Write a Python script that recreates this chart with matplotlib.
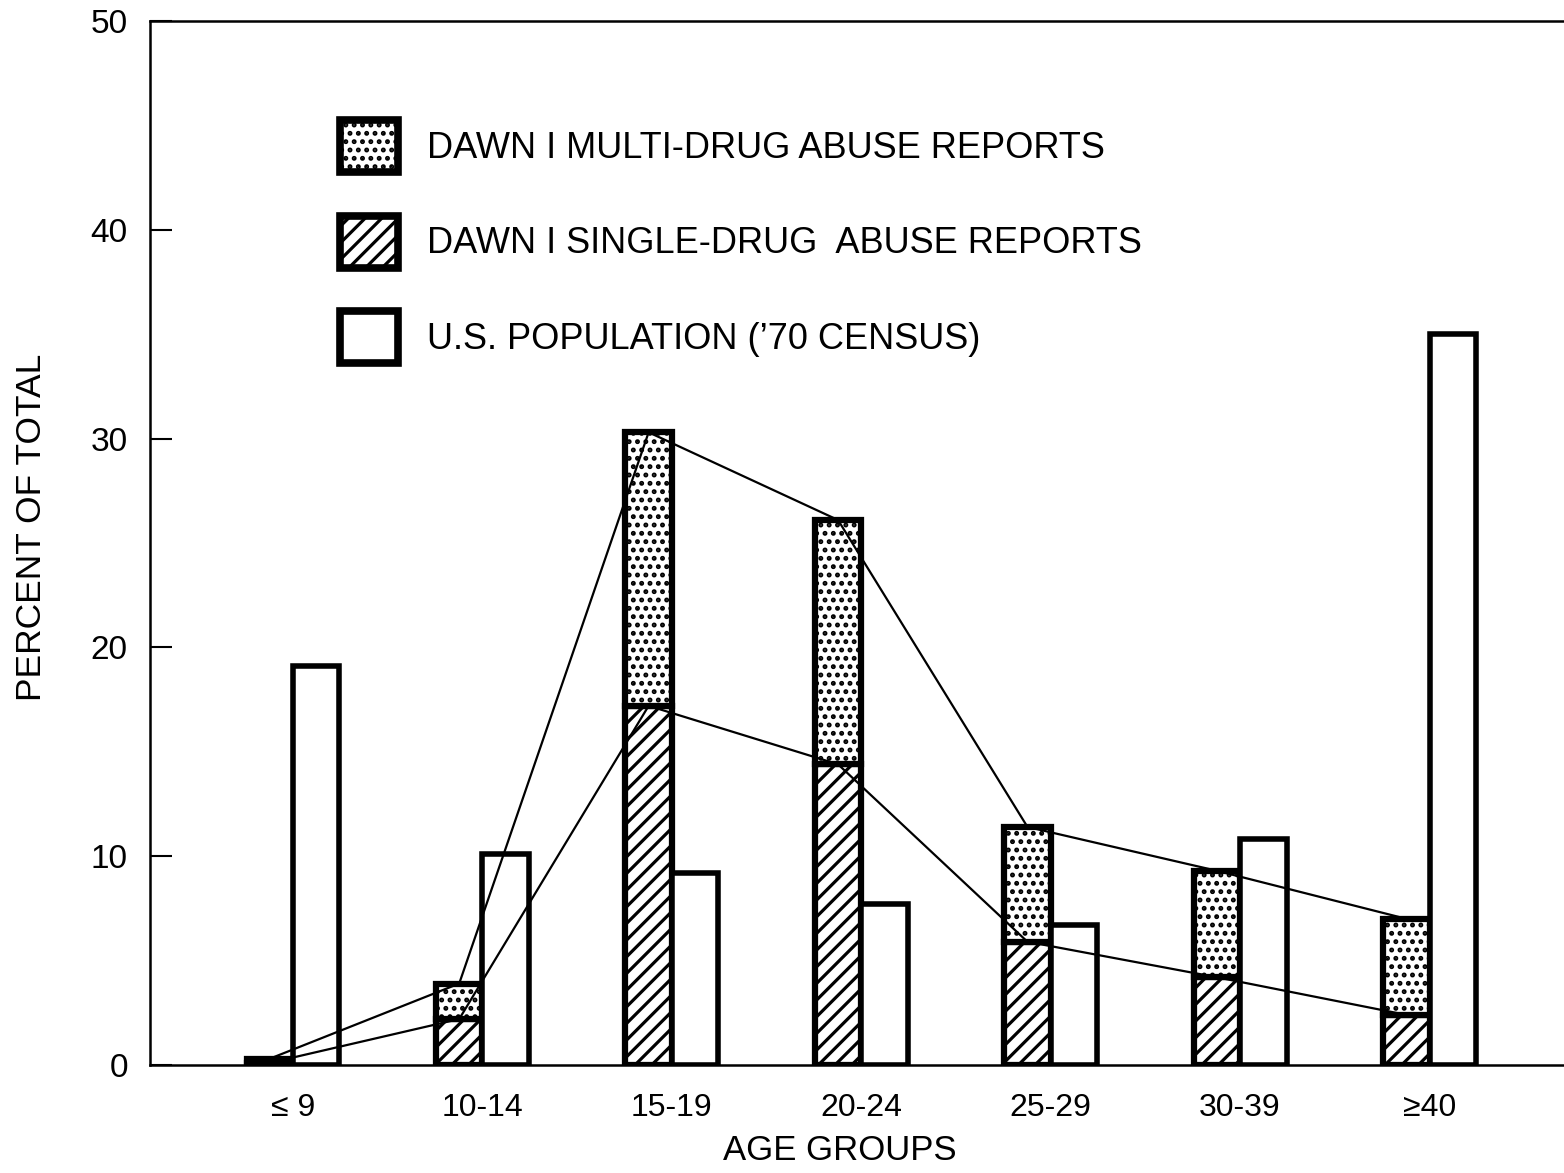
import numpy as np
import matplotlib
matplotlib.use('Agg')
import matplotlib.pyplot as plt
from matplotlib.patches import Patch

plt.rcParams['font.family'] = ['Liberation Sans', 'DejaVu Sans']
plt.rcParams['hatch.linewidth'] = 2.3

# data (percent of total)
ageGroups = ['≤ 9', '10-14', '15-19', '20-24', '25-29', '30-39', '≥40']
totalDrug = [0.3, 3.9, 30.3, 26.1, 11.4, 9.3, 7.0]     # multi + single (top of stacked bar)
singleDrug = [0.1, 2.2, 17.2, 14.4, 5.9, 4.2, 2.4]
population = [19.1, 10.1, 9.2, 7.7, 6.7, 10.8, 35.0]

multiDrug = [t - s for t, s in zip(totalDrug, singleDrug)]

x = np.arange(len(ageGroups))
w = 0.245

fig = plt.figure(figsize=(15.64, 11.73), dpi=100)
ax = fig.add_axes([0.0959, 0.0921, 0.9041, 0.8900])

ax.bar(x - w / 2, singleDrug, w, color='white', edgecolor='black',
       hatch='//', linewidth=4.5, zorder=2)
ax.bar(x - w / 2, multiDrug, w, bottom=singleDrug, color='white',
       edgecolor='black', hatch='..', linewidth=4.5, zorder=2)
ax.bar(x + w / 2, population, w, color='white', edgecolor='black',
       linewidth=4, zorder=2)

# connecting lines through the drug bars
ax.plot(x - w / 2, totalDrug, color='black', linewidth=1.6, zorder=3)
ax.plot(x - w / 2, singleDrug, color='black', linewidth=1.6, zorder=3)

ax.set_xlim(-0.755, 6.71)
ax.set_ylim(0, 50)
ax.set_yticks([0, 10, 20, 30, 40, 50])
ax.set_xticks(x)
ax.set_xticklabels(ageGroups)
ax.tick_params(axis='y', direction='in', length=16, width=1.5, pad=16,
               labelsize=24)
ax.tick_params(axis='x', length=0, pad=20, labelsize=23)
ax.spines['right'].set_visible(False)
for s in ['left', 'bottom', 'top']:
    ax.spines[s].set_linewidth(1.8)

ax.set_xlabel('AGE GROUPS', fontsize=25, labelpad=12)
ax.set_ylabel('PERCENT OF TOTAL', fontsize=25.5)
ax.xaxis.set_label_coords(0.488, -0.066)
ax.yaxis.set_label_coords(-0.072, 0.515)

handles = [
    Patch(facecolor='white', edgecolor='black', hatch='..', linewidth=5.5),
    Patch(facecolor='white', edgecolor='black', hatch='//', linewidth=5.5),
    Patch(facecolor='white', edgecolor='black', linewidth=5.5),
]
labels = ['DAWN I MULTI-DRUG ABUSE REPORTS',
          'DAWN I SINGLE-DRUG  ABUSE REPORTS',
          'U.S. POPULATION (’70 CENSUS)']
ax.legend(handles, labels, loc='upper left',
          bbox_to_anchor=(340 / 1564, 1 - 120 / 1173),
          bbox_transform=fig.transFigure, frameon=False, fontsize=26,
          handlelength=1.6, handleheight=1.85, handletextpad=0.8,
          labelspacing=1.2, borderpad=0, borderaxespad=0)

fig.savefig('out.png', dpi=100)
